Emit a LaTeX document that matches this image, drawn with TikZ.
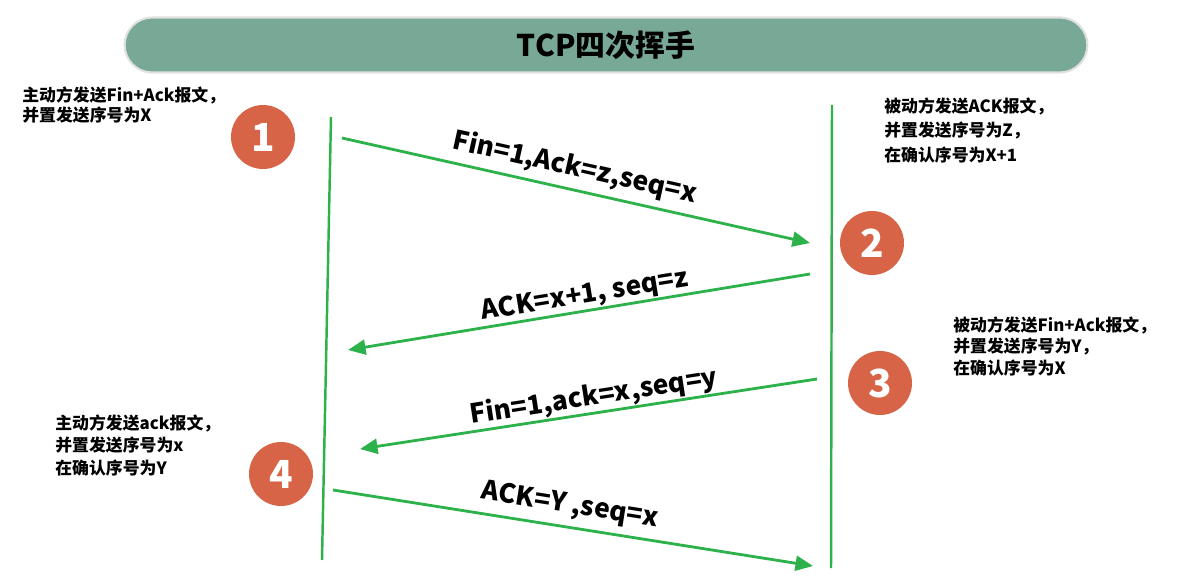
\documentclass[tikz,border=0pt]{standalone}
\usepackage{fontspec}
\setmainfont{Noto Sans CJK SC}
\usetikzlibrary{arrows.meta}
\definecolor{bannergreen}{RGB}{120,168,150}
\definecolor{linegreen}{RGB}{45,178,75}
\definecolor{stepred}{RGB}{216,100,72}

\begin{document}
\begin{tikzpicture}[x=0.02cm,y=-0.02cm,
	msg/.style={draw=linegreen,line width=1.6pt,-{Triangle[length=10pt,width=8.5pt]}},
	life/.style={draw=linegreen,line width=1.4pt},
	lbl/.style={font=\fontsize{15}{15}\selectfont\bfseries,inner sep=0pt},
	note/.style={align=left,anchor=north west,inner sep=0pt,font=\fontsize{9.6}{12.5}\selectfont\bfseries}]
	\useasboundingbox (0,0) rectangle (1193,577);

	\node[fill=bannergreen,draw=black!12,line width=1.2pt,rounded corners=0.55cm,
		minimum width=19.26cm,minimum height=1.1cm,font=\fontsize{17}{17}\selectfont\bfseries] (title) at (606,45) {TCP四次挥手};

	\coordinate (Ltop) at (331,117);
	\coordinate (Lbot) at (322,560);
	\coordinate (Rtop) at (832,105);
	\coordinate (Rbot) at (831,568);
	\draw [life] (Ltop) -- (Lbot);
	\draw [life] (Rtop) -- (Rbot);

	\coordinate (A1) at (342,138);
	\coordinate (B1) at (810,243);
	\coordinate (B2) at (810,274);
	\coordinate (A2) at (348,350);
	\coordinate (B3) at (817,379);
	\coordinate (A3) at (360,449);
	\coordinate (A4) at (333,490);
	\coordinate (B4) at (813,566);

	\draw [msg] (A1) -- (B1);
	\draw [msg] (B2) -- (A2);
	\draw [msg] (B3) -- (A3);
	\draw [msg] (A4) -- (B4);

	\node[lbl,rotate=-12.6] (lab1) at (575,168) {Fin=1,Ack=z,seq=x};
	\node[lbl,rotate=9.3] (lab2) at (585,296) {ACK=x+1, seq=z};
	\node[lbl,rotate=8.8] (lab3) at (594,397) {Fin=1,ack=x,seq=y};
	\node[lbl,rotate=-9] (lab4) at (570,506) {ACK=Y ,seq=x};

	\begin{scope}[every node/.style={circle,fill=stepred,text=white,minimum size=1.28cm,inner sep=0pt,font=\fontsize{22}{22}\selectfont\bfseries}]
	\node (S1) at (263,137) {1};
	\node (S2) at (872,243) {2};
	\node (S3) at (880,383) {3};
	\node (S4) at (281,474) {4};
	\end{scope}

	\node[note,font=\fontsize{9.6}{11.6}\selectfont\bfseries] (N1) at (22,86) {主动方发送Fin+Ack报文，\\并置发送序号为X};
	\node[note,font=\fontsize{9.6}{14}\selectfont\bfseries] (N2) at (884,97) {被动方发送ACK报文，\\并置发送序号为Z，\\在确认序号为X+1};
	\node[note,font=\fontsize{9.6}{12.3}\selectfont\bfseries] (N3) at (953,316) {被动方发送Fin+Ack报文，\\并置发送序号为Y，\\在确认序号为X};
	\node[note,font=\fontsize{9.6}{13}\selectfont\bfseries] (N4) at (55,414) {主动方发送ack报文，\\并置发送序号为x\\在确认序号为Y};
\end{tikzpicture}
\end{document}
